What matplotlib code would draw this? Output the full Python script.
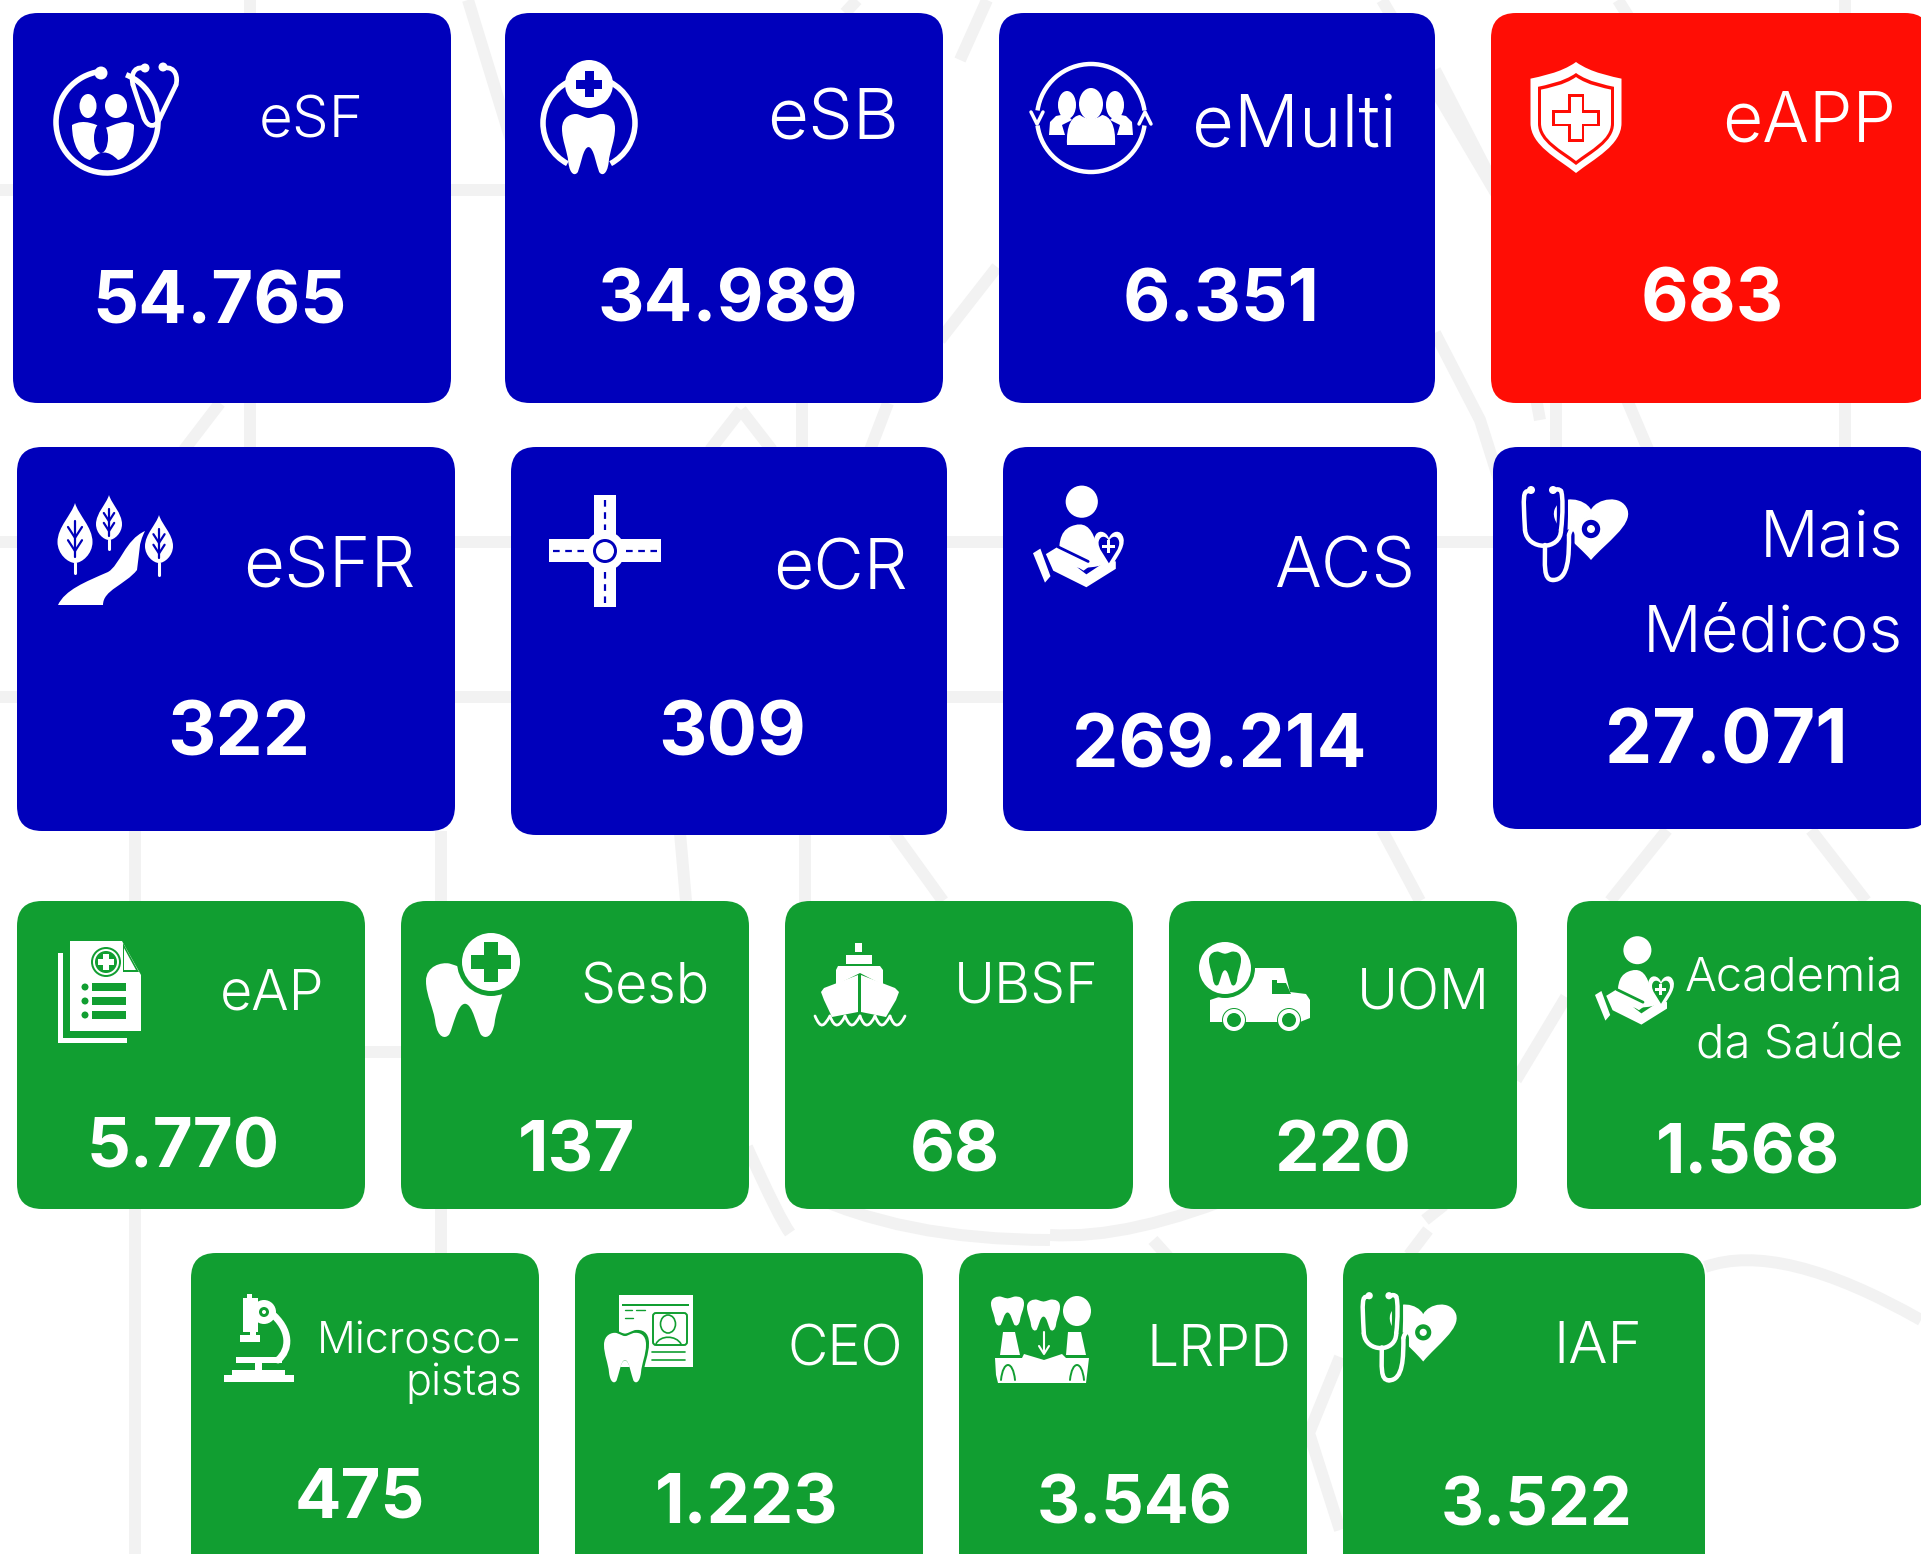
import matplotlib
matplotlib.use("Agg")
import matplotlib.pyplot as plt
from matplotlib.patches import FancyBboxPatch, Circle, Ellipse, Polygon, PathPatch, Arc, Rectangle
from matplotlib.path import Path

# ---------- content ----------
team_labels = ["eSF", "eSB", "eMulti", "eAPP", "eSFR", "eCR", "ACS", "Mais\nMédicos",
               "eAP", "Sesb", "UBSF", "UOM", "Academia\nda Saúde",
               "Microsco-\npistas", "CEO", "LRPD", "IAF"]
team_values = ["54.765", "34.989", "6.351", "683", "322", "309", "269.214", "27.071",
               "5.770", "137", "68", "220", "1.568",
               "475", "1.223", "3.546", "3.522"]

# ---------- layout (pixels) ----------
BLUE, RED, GREEN, BG = "#0000BB", "#FF0D05", "#119E31", "#F2F2F2"
card_fill = [BLUE, BLUE, BLUE, RED, BLUE, BLUE, BLUE, BLUE] + [GREEN] * 9
card_box = [(13, 13, 451, 403), (505, 13, 943, 403), (999, 13, 1435, 403), (1491, 13, 1930, 403),
            (17, 447, 455, 831), (511, 447, 947, 835), (1003, 447, 1437, 831), (1493, 447, 1930, 829),
            (17, 901, 365, 1209), (401, 901, 749, 1209), (785, 901, 1133, 1209), (1169, 901, 1517, 1209),
            (1567, 901, 1930, 1209),
            (191, 1253, 539, 1600), (575, 1253, 923, 1600), (959, 1253, 1307, 1600), (1343, 1253, 1705, 1600)]
# right edge, list of baselines, point size
label_pos = [(364, [138], 42), (899, [139], 51), (1397, [148], 52), (1896, [141], 50),
             (416, [588], 51), (908, [590], 50), (1415, [588], 50), (1903, [557, 651], 47),
             (324, [1009], 40), (710, [1004], 40), (1099, [1004], 40), (1490, [1009], 40),
             (1903, [992, 1058], 34),
             (522, [1353, 1395], 31), (903, [1366], 40), (1291, [1366], 41), (1642, [1363], 42)]
# centre x, baseline, point size
value_pos = [(220, 323, 52), (728, 321, 52), (1221, 321, 52.5), (1712, 321, 53),
             (239, 755, 54), (732, 755, 54), (1219, 768, 53), (1726, 764, 54),
             (183, 1168, 49.5), (577, 1172, 51), (955, 1172, 50), (1343, 1172, 51), (1748, 1173, 49),
             (360, 1518, 49.5), (747, 1524, 49.5), (1135, 1524, 48), (1537, 1526, 48)]

W, H = 1921, 1554
fig = plt.figure(figsize=(W / 100, H / 100), dpi=100, facecolor="white")
ax = fig.add_axes([0, 0, 1, 1])
ax.set_xlim(0, W); ax.set_ylim(H, 0); ax.axis("off")

# ---------- faint background network ----------
bg_lines = [
    [(250, 0), (250, 700)], [(135, 831), (135, 1554)], [(441, 831), (441, 1554)],
    [(805, 831), (805, 1000)], [(1556, 400), (1556, 450)], [(1845, 0), (1845, 30)],
    [(1845, 400), (1845, 450)], [(802, 400), (802, 460)],
    [(0, 190), (505, 190)], [(0, 542), (1921, 542)], [(0, 697), (1003, 697)],
    [(365, 1052), (401, 1052)],
    [(468, 0), (560, 300)], [(857, 0), (845, 13)], [(987, 0), (960, 60)],
    [(1382, 0), (1500, 200), (1540, 420)], [(1618, 0), (1700, 130)],
    [(1435, 70), (1490, 177)], [(1435, 333), (1480, 420), (1499, 480)],
    [(997, 267), (940, 340)], [(220, 403), (184, 450)],
    [(741, 410), (710, 450)], [(741, 410), (772, 450)], [(888, 403), (870, 450)],
    [(1627, 400), (1661, 480)],
    [(680, 833), (686, 901)], [(894, 833), (943, 901)], [(1382, 830), (1420, 901)],
    [(1667, 830), (1610, 901)], [(1811, 830), (1866, 901)],
    [(1566, 997), (1516, 1080)], [(1425, 1220), (1444, 1205)],
    [(1153, 1240), (1171, 1260)], [(1428, 1230), (1409, 1255)],
    [(1340, 1357), (1309, 1433), (1340, 1530)],
]
for pts in bg_lines:
    xs, ys = zip(*pts)
    ax.plot(xs, ys, color=BG, lw=8.6, solid_capstyle="butt", zorder=0)
for verts in [
    [(747, 1147), (780, 1220), (790, 1233)],
    [(800, 1190), (900, 1240), (1050, 1240)],
    [(1050, 1235), (1130, 1240), (1250, 1190)],
    [(1705, 1267), (1780, 1240), (1921, 1320)],
]:
    ax.add_patch(PathPatch(Path(verts, [Path.MOVETO, Path.CURVE3, Path.CURVE3]),
                           fc="none", ec=BG, lw=8.6, zorder=0))

# ---------- cards ----------
for (x0, y0, x1, y1), c in zip(card_box, card_fill):
    ax.add_patch(FancyBboxPatch((x0 + 25, y0 + 25), x1 - x0 - 50, y1 - y0 - 50,
                                boxstyle="round,pad=25,rounding_size=25",
                                fc=c, ec="none", zorder=1))

# ---------- icon primitives ----------
Z = 2
def circ(x, y, r, c="white", z=Z):
    ax.add_patch(Circle((x, y), r, fc=c, ec="none", zorder=z))
def oval(x, y, w, h, c="white", z=Z, ang=0):
    ax.add_patch(Ellipse((x, y), w, h, angle=ang, fc=c, ec="none", zorder=z))
def ring(x, y, r, lw=3.5, c="white", z=Z):
    ax.add_patch(Circle((x, y), r, fc="none", ec=c, lw=lw, zorder=z))
def arc(x, y, r, a0, a1, lw=3.5, c="white", z=Z):
    ax.add_patch(Arc((x, y), 2 * r, 2 * r, theta1=a0, theta2=a1, ec=c, lw=lw, zorder=z))
def poly(pts, c="white", z=Z):
    ax.add_patch(Polygon(pts, closed=True, fc=c, ec="none", zorder=z))
def rect(x0, y0, x1, y1, c="white", z=Z):
    ax.add_patch(Rectangle((x0, y0), x1 - x0, y1 - y0, fc=c, ec="none", zorder=z))
def line(pts, lw=3, c="white", z=Z, ls="-"):
    xs, ys = zip(*pts)
    ax.plot(xs, ys, color=c, lw=lw, ls=ls, solid_capstyle="round", zorder=z)
def curve(pts, lw=3, c="white", z=Z):
    codes = [Path.MOVETO] + [Path.CURVE4] * (len(pts) - 1)
    ax.add_patch(PathPatch(Path(pts, codes), fc="none", ec=c, lw=lw, capstyle="round", zorder=z))
def blob(pts, c="white", z=Z):
    codes = [Path.MOVETO] + [Path.CURVE4] * (len(pts) - 1)
    ax.add_patch(PathPatch(Path(pts, codes), fc=c, ec="none", zorder=z))
def plus(x, y, a, b, c, z=Z):
    rect(x - b, y - a, x + b, y + a, c, z)
    rect(x - a, y - b, x + a, y + b, c, z)

_tooth = [(0, .25), (0, .05), (.2, 0), (.3, .02), (.4, .05), (.45, .08), (.5, .08),
          (.55, .08), (.6, .05), (.7, .02), (.85, 0), (1, .05), (1, .25),
          (1, .45), (.9, .6), (.88, .8), (.85, 1), (.75, 1.02), (.7, .95),
          (.65, .85), (.6, .55), (.5, .55), (.4, .55), (.35, .85), (.3, .95),
          (.25, 1.02), (.15, 1), (.12, .8), (.1, .6), (0, .45), (0, .25)]
def tooth(x0, y0, w, h, c="white", z=Z):
    blob([(x0 + u * w, y0 + v * h) for u, v in _tooth], c, z)

_heart = [(.5, .2), (.42, .02), (.1, -.05), (.02, .2), (-.05, .45), (.3, .72), (.5, 1),
          (.7, .72), (1.05, .45), (.98, .2), (.9, -.05), (.58, .02), (.5, .2)]
def heart(x0, y0, w, h, c="white", z=Z):
    blob([(x0 + u * w, y0 + v * h) for u, v in _heart], c, z)

def leaf(cx, top, w, h, stem, bg):
    blob([(cx, top), (cx - w * .1, top + h * .2), (cx - w * .5, top + h * .4), (cx - w * .5, top + h * .65),
          (cx - w * .5, top + h * .85), (cx - w * .2, top + h), (cx, top + h),
          (cx + w * .2, top + h), (cx + w * .5, top + h * .85), (cx + w * .5, top + h * .65),
          (cx + w * .5, top + h * .4), (cx + w * .1, top + h * .2), (cx, top)])
    line([(cx, top + h), (cx, top + h + stem)], 2.2)
    line([(cx, top + h * .3), (cx, top + h * .9)], 1.6, bg, Z + 1)
    for f in (.4, .62):
        line([(cx - w * .2, top + h * f), (cx, top + h * (f + .18)), (cx + w * .2, top + h * f)], 1.6, bg, Z + 1)

def person_hand(ox, oy, s, bg):
    P = lambda x, y: (ox + x * s, oy + y * s)
    oval(*P(53, 29), 35 * s, 35 * s)
    blob([P(28, 100), P(28, 75), P(28, 62), P(41, 56), P(55, 50), P(63, 56), P(68, 72),
          P(73, 85), P(78, 90), P(80, 95), P(73, 100), P(63, 102), P(28, 100)])
    heart(*P(66, 60), 33 * s, 44 * s, "white", Z + 1)
    heart(*P(71, 66), 23 * s, 30 * s, bg, Z + 1)
    plus(*P(82, 78), 7 * s, 1.6 * s, "white", Z + 2)
    poly([P(0, 85), P(8, 80), P(19, 110), P(13, 117)])
    poly([P(14, 86), P(27, 78), P(58, 92), P(63, 98), P(55, 104), P(45, 98), P(58, 108), P(82, 92),
          P(90, 94), P(90, 102), P(58, 122), P(22, 104)])
    line([P(27, 78), P(60, 94)], 2, bg, Z + 1)

def steth_heart(ox, oy, sx, sy, bg):
    P = lambda x, y: (ox + x * sx, oy + y * sy)
    heart(*P(30, 12), 76 * sx, 63 * sy)
    # halo that separates the tubes from the heart
    curve([P(38, 66), P(40, 30), P(40, 10), P(38, 0)], 8, bg, Z)
    curve([P(46, 90), P(46, 70), P(46, 65), P(46, 50)], 8, bg, Z)
    curve([P(6, 6), P(0, 6), P(0, 10), P(2, 45)], 3.2, "white", Z + 1)
    curve([P(2, 45), P(4, 66), P(38, 66), P(38, 45)], 3.2, "white", Z + 1)
    curve([P(38, 45), P(40, 30), P(40, 10), P(38, 6)], 3.2, "white", Z + 1)
    curve([P(38, 6), P(36, 4), P(34, 4), P(32, 5)], 3.2, "white", Z + 1)
    circ(*P(8, 5), 4 * sx, "white", Z + 1); circ(*P(30, 5), 4 * sx, "white", Z + 1)
    curve([P(22, 60), P(22, 80), P(20, 95), P(30, 95)], 3.2, "white", Z + 1)
    curve([P(30, 95), P(46, 95), P(46, 70), P(46, 50)], 3.2, "white", Z + 1)
    curve([P(46, 50), P(50, 35), P(70, 30), P(70, 42)], 3.2, "white", Z + 1)
    circ(*P(68, 44), 12 * sx, bg, Z + 1)
    ring(*P(68, 44), 11 * sx, 2.6, "white", Z + 1)
    circ(*P(68, 44), 4 * sx, "white", Z + 2)

def shield(cx, top, w, h, c, z):
    x0, x1 = cx - w / 2, cx + w / 2
    blob([(cx, top), (cx - w * .17, top + h * .1), (x0 + w * .1, top + h * .13), (x0, top + h * .15),
          (x0, top + h * .35), (x0, top + h * .5), (x0, top + h * .55),
          (x0, top + h * .75), (cx - w * .2, top + h * .87), (cx, top + h),
          (cx + w * .2, top + h * .87), (x1, top + h * .75), (x1, top + h * .55),
          (x1, top + h * .5), (x1, top + h * .35), (x1, top + h * .15),
          (x1 - w * .1, top + h * .13), (cx + w * .17, top + h * .1), (cx, top)], c, z)

# ---------- icons ----------
# eSF
arc(107, 122, 51, -68, 262, 4)
oval(101, 73, 13, 13)
oval(88, 106, 17, 24); oval(116, 106, 22, 24)
blob([(72, 125), (85, 118), (95, 125), (105, 128), (115, 125), (125, 118), (134, 125), (134, 145),
      (128, 158), (118, 160), (108, 150), (100, 150), (90, 160), (80, 158), (72, 145), (72, 125)])
oval(101, 138, 14, 30, BLUE, Z + 1)
curve([(144, 68), (132, 66), (131, 78), (133, 85)], 3.4)
line([(133, 85), (144, 118)], 3.4)
curve([(144, 118), (148, 128), (156, 128), (160, 118)], 3.4)
line([(160, 118), (176, 85)], 3.4)
curve([(176, 85), (178, 78), (176, 66), (164, 68)], 3.4)
circ(145, 68, 4.5); circ(163, 67, 4.5)

# eSB
arc(589, 123, 46, 118, 242, 4); arc(589, 123, 46, -62, 62, 4)
tooth(562, 113, 53, 62)
circ(589, 84, 24); plus(589, 84, 13, 4.5, BLUE, Z + 1)

# eMulti
arc(1091, 118, 54, 8, 172, 3.2); arc(1091, 118, 54, 188, 352, 3.2)
line([(1031, 112), (1037, 124), (1043, 112)], 2.5)
line([(1139, 124), (1145, 112), (1151, 124)], 2.5)
oval(1067, 105, 18, 28); oval(1115, 105, 18, 28); oval(1091, 104, 24, 32)
poly([(1049, 135), (1050, 122), (1056, 116), (1066, 114), (1072, 120), (1062, 125), (1065, 135)])
poly([(1133, 135), (1132, 122), (1126, 116), (1116, 114), (1110, 120), (1120, 125), (1117, 135)])
blob([(1067, 145), (1066, 125), (1072, 116), (1080, 115), (1086, 120), (1096, 120), (1102, 115),
      (1110, 116), (1116, 125), (1115, 145), (1115, 145), (1067, 145), (1067, 145)])

# eAPP
shield(1576, 62, 91, 111, "white", Z)
shield(1576, 73, 76, 92, RED, Z + 1)
shield(1576, 77, 70, 84, "white", Z + 2)
plus(1576, 118, 24, 8, RED, Z + 3)
plus(1576, 118, 21, 5.5, "white", Z + 4)

# eSFR
leaf(75, 503, 35, 60, 10, BLUE); leaf(109, 495, 26, 45, 9, BLUE); leaf(159, 515, 28, 48, 12, BLUE)
blob([(145, 531), (125, 540), (120, 565), (108, 572), (85, 582), (65, 590), (58, 605),
      (70, 605), (90, 605), (103, 605), (103, 590), (125, 585), (137, 570), (140, 550), (138, 545), (145, 531)])

# eCR
rect(594, 495, 616, 607); rect(549, 539, 661, 562); circ(605, 551, 20)
oval(605, 551, 24, 24, BLUE, Z + 1); oval(605, 551, 18, 18, "white", Z + 2)
for pts in ([(605, 500), (605, 530)], [(605, 572), (605, 603)], [(553, 551), (584, 551)], [(626, 551), (657, 551)]):
    line(pts, 1.6, BLUE, Z + 1, (0, (3, 2.5)))

# eAP
rect(58, 953, 127, 1043); rect(63, 948, 141, 1038, GREEN, Z + 1)
poly([(70, 941), (122, 941), (141, 975), (141, 1031), (70, 1031)], "white", Z + 2)
poly([(123, 943), (139, 972), (123, 972)], GREEN, Z + 3)
poly([(124, 948), (136, 970), (124, 970)], "white", Z + 3)
circ(106, 962, 15, GREEN, Z + 3); circ(106, 962, 13, "white", Z + 3); circ(106, 962, 11, GREEN, Z + 3)
plus(106, 962, 8, 3, "white", Z + 4)
for y in (987, 1001, 1015):
    circ(85, y, 3.5, GREEN, Z + 3)
    rect(92, y - 4, 126, y + 4, GREEN, Z + 3)

# Sesb
tooth(426, 962, 78, 76)
circ(491, 962, 34, GREEN, Z + 1); circ(491, 962, 29, "white", Z + 2)
plus(491, 962, 20, 7, GREEN, Z + 3)

# UBSF
rect(855, 943, 862, 952); rect(846, 955, 872, 964)
poly([(838, 966), (880, 966), (883, 970), (883, 985), (860, 973), (836, 985), (836, 970)])
poly([(858, 975), (858, 1012), (832, 1017), (824, 1000), (821, 992), (824, 988)])
poly([(861, 975), (861, 1012), (886, 1017), (896, 1000), (899, 992), (895, 988)])
for x0 in (815, 845, 875):
    curve([(x0, 1016), (x0 + 6, 1030), (x0 + 9, 1026), (x0 + 15, 1016)], 2)
    curve([(x0 + 15, 1016), (x0 + 20, 1030), (x0 + 25, 1026), (x0 + 30, 1016)], 2)

# UOM
poly([(1210, 1000), (1240, 990), (1240, 968), (1284, 968), (1290, 992), (1306, 994), (1310, 1000),
      (1310, 1018), (1300, 1022), (1210, 1022)])
poly([(1272, 983), (1286, 983), (1291, 994), (1272, 994)], GREEN, Z + 1)
rect(1272, 980, 1277, 994, GREEN, Z + 1)
circ(1225, 968, 30, GREEN, Z + 1); circ(1225, 968, 26, "white", Z + 2)
tooth(1209, 951, 32, 35, GREEN, Z + 3)
for x in (1234, 1289):
    circ(x, 1020, 12, GREEN, Z + 1); circ(x, 1020, 11, "white", Z + 2); circ(x, 1020, 7, GREEN, Z + 3)

# Academia / ACS
person_hand(1033, 475, 0.92, BLUE)
person_hand(1595, 927, 0.80, GREEN)

# Mais Médicos / IAF
steth_heart(1523, 485, 1.0, 1.0, BLUE)
steth_heart(1362, 1291, 0.9, 0.94, GREEN)

# Microscope
rect(243, 1298, 258, 1332); rect(247, 1294, 252, 1300); rect(250, 1332, 256, 1340)
rect(240, 1335, 260, 1342); circ(264, 1312, 12); circ(264, 1312, 5, GREEN, Z + 1); circ(264, 1312, 2, "white", Z + 2)
curve([(270, 1312), (292, 1330), (290, 1350), (278, 1360)], 5)
rect(236, 1357, 282, 1363); rect(255, 1363, 262, 1372); rect(232, 1370, 285, 1376)
rect(224, 1375, 294, 1382)

# CEO
rect(619, 1295, 693, 1367)
rect(622, 1304, 689, 1306, GREEN, Z + 1)
line([(625, 1310), (632, 1310)], 1, GREEN, Z + 1); line([(636, 1310), (645, 1310)], 1, GREEN, Z + 1)
line([(625, 1318), (633, 1318)], 1, GREEN, Z + 1)
ax.add_patch(FancyBboxPatch((653, 1313), 34, 32, boxstyle="round,pad=0,rounding_size=3",
                            fc="none", ec=GREEN, lw=1.4, zorder=Z + 1))
ax.add_patch(Ellipse((668, 1324), 15, 18, fc="none", ec=GREEN, lw=1.2, zorder=Z + 1))
curve([(656, 1344), (660, 1335), (676, 1335), (681, 1344)], 1.2, GREEN, Z + 1)
line([(652, 1352), (685, 1352)], 1.2, GREEN, Z + 1); line([(652, 1360), (685, 1360)], 1.2, GREEN, Z + 1)
tooth(601, 1329, 48, 57, GREEN, Z + 2)
tooth(604, 1332, 42, 51, "white", Z + 3)

# LRPD
tooth(991, 1296, 33, 30); tooth(1027, 1299, 33, 32); oval(1077, 1311, 28, 30)
poly([(1003, 1332), (1015, 1332), (1020, 1355), (1000, 1355)])
poly([(1068, 1332), (1081, 1332), (1086, 1355), (1066, 1355)])
line([(1044, 1332), (1044, 1352)], 1.5); line([(1039, 1346), (1044, 1354), (1049, 1346)], 1.5)
poly([(995, 1358), (1022, 1358), (1024, 1354), (1044, 1360), (1062, 1354), (1066, 1358),
      (1089, 1358), (1087, 1375), (1086, 1383), (998, 1383), (996, 1375)])
for x in (1008, 1077):
    curve([(x - 7, 1380), (x - 5, 1360), (x + 5, 1360), (x + 7, 1380)], 1.4, GREEN, Z + 1)

# ---------- text ----------
for label, (xr, bases, size), value, (xc, yb, vsize) in zip(team_labels, label_pos, team_values, value_pos):
    for part, yy in zip(label.split("\n"), bases):
        ax.text(xr, yy, part, ha="right", va="baseline", color="white", fontsize=size,
                family="Inter", fontweight=300, zorder=4)
    ax.text(xc, yb, value, ha="center", va="baseline", color="white", fontsize=vsize,
            family="Inter", fontweight=700, zorder=4)

fig.savefig("out.png", dpi=100, facecolor="white")
